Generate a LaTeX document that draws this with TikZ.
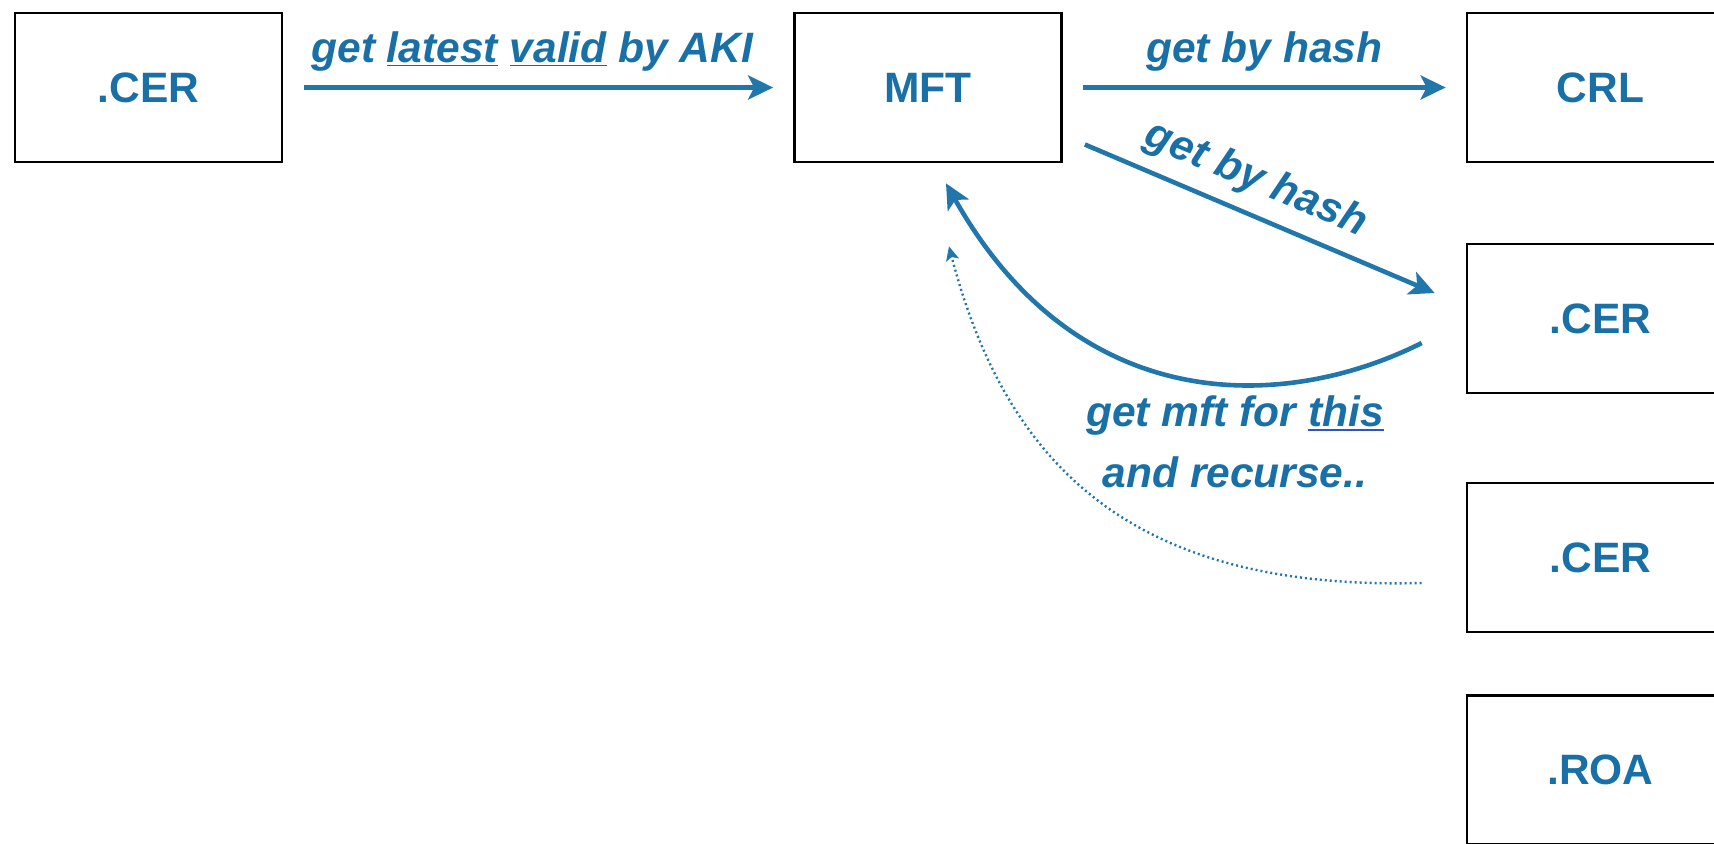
\documentclass[tikz,border=0pt]{standalone}
\usepackage{fontspec}
\setmainfont{Liberation Sans}
\usetikzlibrary{arrows.meta,calc}

\definecolor{ink}{RGB}{24,112,166}
\definecolor{flow}{RGB}{33,119,172}
\definecolor{ulblue}{RGB}{45,85,200}

% underlined word with a rule in its own colour
\newcommand\ulword[1]{\setbox0\hbox{#1}\rlap{\color{ulblue}\rule[-2pt]{\wd0}{0.8pt}}\box0\relax}

\tikzset{
  objbox/.style={draw=black, line width=1.35pt, minimum width=133.5pt,
    minimum height=74.5pt, inner sep=0pt, text=ink,
    font=\fontsize{21.25}{25}\selectfont\bfseries},
  flowarrow/.style={draw=flow, line width=2.3pt,
    -{Stealth[length=12.5pt,width=12pt,inset=3pt]}},
  edgelabel/.style={text=ink, inner sep=0pt,
    font=\fontsize{21.25}{30.5}\selectfont\bfseries\itshape},
  recursearrow/.style={draw=flow, line width=1.2pt,
    dash pattern=on 1pt off 1.5pt,
    -{Stealth[length=7pt,width=6.5pt,inset=1.5pt]}}
}

\begin{document}
\begin{tikzpicture}[x=0.5pt,y=-0.5pt]
\useasboundingbox (0,0) rectangle (1714,843);
\clip (0,0) rectangle (1714,843);

% objects
\node[objbox] (cerA) at (148.5,87.5) {.CER};
\node[objbox] (mft)  at (928,87.5)   {MFT};
\node[objbox] (crl)  at (1600.5,87.5)  {CRL};
\node[objbox] (cerB) at (1600.5,318.5) {.CER};
\node[objbox] (cerC) at (1600.5,557.5) {.CER};
\node[objbox] (roa)  at (1600.5,770)   {.ROA};

% certificate -> manifest
\draw[flowarrow, shorten <=10.5pt, shorten >=10pt] (cerA) --
  node[edgelabel, above=7pt, xshift=-3pt] {get \ulword{latest} \ulword{valid} by AKI} (mft);

% manifest -> CRL
\draw[flowarrow, shorten <=10pt, shorten >=10pt] (mft) --
  node[edgelabel, above=7pt] {get by hash} (crl);

% manifest -> child certificate
\coordinate (d0) at ($(mft.east)+(22,57)$);
\coordinate (d1) at ($(cerB.west)+(-31,-25.5)$);
\draw[flowarrow] (d0) -- node[edgelabel, sloped, above=6pt, pos=0.45] {get by hash} (d1);

% child certificate back to manifest
\coordinate (c0) at ($(cerB.west)+(-44,24.5)$);
\coordinate (c1) at ($(mft.south)+(18,20)$);
\draw[flowarrow] (c0) .. controls ($(c0)+(-133,67)$) and ($(c1)+(134,238)$) .. (c1);

% further certificates recurse the same way
\coordinate (e0) at ($(cerC.west)+(-44,25.5)$);
\coordinate (e1) at ($(mft.south)+(21,83)$);
\draw[recursearrow] (e0) .. controls ($(e0)+(-273,7)$) and ($(e1)+(61,235)$) .. (e1);

\node[edgelabel, align=center] (recurse) at (1235,442)
  {get mft for \ulword{this}\\and recurse..};
\end{tikzpicture}
\end{document}
